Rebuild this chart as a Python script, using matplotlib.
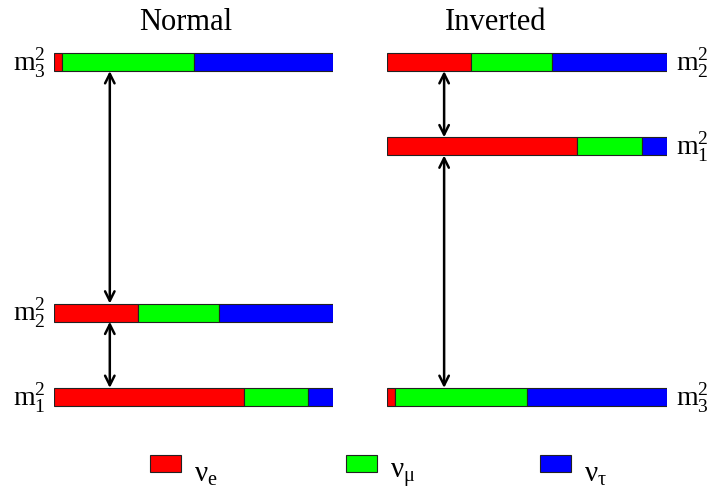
import matplotlib
matplotlib.use("Agg")
import matplotlib.pyplot as plt
from matplotlib.patches import Rectangle

plt.rcParams['font.family'] = ['Liberation Serif', 'DejaVu Serif']
plt.rcParams['mathtext.fontset'] = 'custom'
plt.rcParams['mathtext.rm'] = 'Liberation Serif'
plt.rcParams['mathtext.it'] = 'Liberation Serif:italic'

# flavour content |U_ai|^2 of each mass state (nu_e, nu_mu, nu_tau)
flavours = [r'$\mathrm{\nu}_\mathrm{e}$', r'$\mathrm{\nu}_\mathrm{\mu}$', r'$\mathrm{\nu}_\mathrm{\tau}$']
colors = ['#ff0000', '#00ff00', '#0000ff']
states = ['1', '2', '3']
frac_e = [0.68, 0.30, 0.03]
frac_mu = [0.23, 0.29, 0.47]
frac_tau = [0.09, 0.41, 0.50]

# mass-squared levels (arbitrary units)
normal_levels = [0.0, 1.0, 3.97]
inverted_levels = [2.97, 3.97, 0.0]

W, H = 710, 489
fig = plt.figure(figsize=(7.1, 4.89), dpi=100)

bar_h = 0.215
ylo, yhi = -0.5, 4.5
ax_bottom = (H - 440.2) / H
ax_height = (440.2 - 18.3) / H

panels = [
    ('Normal', normal_levels, 54, 279, 'left', 186, 0.20),
    ('Inverted', inverted_levels, 387, 280, 'right', 496, 0.204),
]

for title, levels, x0, w, side, tx, arrow_x in panels:
    ax = fig.add_axes([x0 / W, ax_bottom, w / W, ax_height])
    ax.set_xlim(0, 1)
    ax.set_ylim(ylo, yhi)
    ax.axis('off')
    for i, lev in enumerate(levels):
        left = 0.0
        for f, c in zip([frac_e[i], frac_mu[i], frac_tau[i]], colors):
            ax.barh(lev, f, left=left, height=bar_h, color=c,
                    edgecolor='#222222', linewidth=0.8)
            left += f
        lab = r'$\mathrm{m}_%s^2$' % states[i]
        if side == 'left':
            ax.text(-0.03, lev, lab, ha='right', va='center', fontsize=20)
        else:
            ax.text(1.032, lev, lab, ha='left', va='center', fontsize=20)
    srt = sorted(levels)
    for a, b in zip(srt[:-1], srt[1:]):
        ax.annotate('', xy=(arrow_x, b - bar_h / 2), xytext=(arrow_x, a + bar_h / 2),
                    arrowprops=dict(arrowstyle='<->', color='black', lw=1.8,
                                    mutation_scale=17, shrinkA=0, shrinkB=0))
    fig.text(tx / W, 1 - 23 / H, title, ha='center', va='center', fontsize=22)

# legend
leg_x = [150, 346, 540]
for lx, c, lab in zip(leg_x, colors, flavours):
    fig.patches.append(Rectangle((lx / W, 1 - 473 / H), 31 / W, 17 / H,
                                 transform=fig.transFigure, facecolor=c,
                                 edgecolor='#222222', linewidth=0.8))
    fig.text((lx + 44) / W, 1 - 475 / H, lab, ha='left', va='center', fontsize=21)

fig.savefig('out.png', dpi=100)
